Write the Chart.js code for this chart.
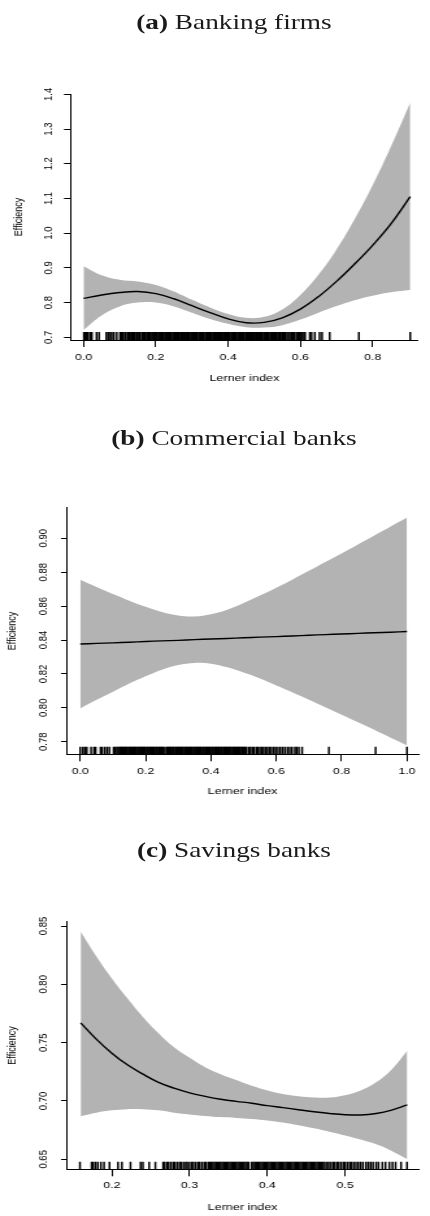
<!DOCTYPE html>
<html><head><meta charset="utf-8">
<script src="https://cdn.jsdelivr.net/npm/chart.js@4.4.1/dist/chart.umd.min.js"></script>
<style>
html,body{margin:0;padding:0;background:#fff;width:430px;height:1216px;overflow:hidden}
#stage{position:absolute;left:0;top:0;width:331px;height:1216px;transform-origin:0 0;transform:scaleX(1.2990937)}
canvas{position:absolute;left:0}
.ttl{position:absolute;left:0;width:360.2px;text-align:center;font-family:"Liberation Serif","Times New Roman",Times,serif;font-size:21px;line-height:21px;color:#1a1a1a;white-space:nowrap}
.ttl b{font-weight:bold}
</style></head><body>
<div id="stage">
<div class="ttl" style="top:12.4px"><b>(a)</b> Banking firms</div>
<canvas id="ca" width="331" height="317" style="top:75px;width:331px;height:317px"></canvas>
<div class="ttl" style="top:428.4px"><b>(b)</b> Commercial banks</div>
<canvas id="cb" width="331" height="318" style="top:488px;width:331px;height:318px"></canvas>
<div class="ttl" style="top:840.4px"><b>(c)</b> Savings banks</div>
<canvas id="cc" width="331" height="314" style="top:902px;width:331px;height:314px"></canvas>
</div>
<script>
// ---------- Panel (a): Banking firms ----------
const xA     = [0, 0.05, 0.1, 0.15, 0.2, 0.25, 0.3, 0.35, 0.4, 0.45, 0.5, 0.55, 0.6, 0.65, 0.7, 0.75, 0.8, 0.85, 0.904];
const fitA   = [0.812, 0.822, 0.829, 0.832, 0.826, 0.811, 0.791, 0.771, 0.753, 0.742, 0.743, 0.756, 0.781, 0.817, 0.861, 0.911, 0.965, 1.026, 1.105];
const upperA = [0.905, 0.879, 0.866, 0.861, 0.851, 0.832, 0.808, 0.786, 0.767, 0.756, 0.759, 0.780, 0.822, 0.880, 0.953, 1.040, 1.138, 1.248, 1.376];
const lowerA = [0.721, 0.763, 0.789, 0.800, 0.800, 0.789, 0.771, 0.753, 0.739, 0.729, 0.728, 0.735, 0.751, 0.771, 0.790, 0.807, 0.820, 0.830, 0.836];
const rugA = [0.001, 0.004, 0.007, 0.012, 0.018, 0.023, 0.036, 0.043, 0.063, 0.068, 0.074, 0.078, 0.084, 0.092, 0.101, 0.105, 0.109, 0.114, 0.117, 0.122, 0.126, 0.129, 0.134, 0.137, 0.141, 0.146, 0.149, 0.153, 0.156, 0.161, 0.164, 0.167,
  0.169, 0.171, 0.175, 0.178, 0.180, 0.184, 0.186, 0.190, 0.193, 0.195, 0.199, 0.202, 0.204, 0.208, 0.211, 0.213, 0.217, 0.220, 0.222, 0.226, 0.229, 0.232, 0.234, 0.238, 0.241, 0.243, 0.247, 0.250, 0.253, 0.255, 0.259, 0.262, 0.264, 0.268, 0.271, 0.273, 0.277, 0.280, 0.283, 0.285, 0.289, 0.292, 0.294, 0.298,
  0.301, 0.303, 0.307, 0.310, 0.313, 0.315, 0.319, 0.322, 0.324, 0.328, 0.331, 0.333, 0.337, 0.340, 0.343, 0.345, 0.349, 0.352, 0.354, 0.358, 0.361, 0.363, 0.367, 0.370, 0.373, 0.375, 0.379, 0.382, 0.384, 0.388, 0.391, 0.393, 0.397, 0.400,
  0.403, 0.405, 0.409, 0.412, 0.414, 0.418, 0.421, 0.423, 0.427, 0.430, 0.433, 0.435, 0.439, 0.442, 0.444, 0.448, 0.451, 0.453, 0.457, 0.460, 0.463, 0.465, 0.469, 0.472, 0.474, 0.478, 0.481, 0.483, 0.487, 0.490, 0.493, 0.495, 0.499,
  0.502, 0.504, 0.508, 0.511, 0.513, 0.517, 0.520, 0.523, 0.525, 0.529, 0.532, 0.535, 0.539, 0.543, 0.546, 0.551, 0.555, 0.558, 0.563, 0.567, 0.571, 0.576, 0.580, 0.584, 0.589, 0.593, 0.597, 0.602, 0.606, 0.610, 0.613,
  0.626, 0.631, 0.640, 0.653, 0.660, 0.681, 0.762, 0.904];
const xTicksA  = [0, 0.2, 0.4, 0.6, 0.8];
const xLabelsA = ['0.0', '0.2', '0.4', '0.6', '0.8'];
const yTicksA  = [0.7, 0.8, 0.9, 1.0, 1.1, 1.2, 1.3, 1.4];
const yLabelsA = ['0.7', '0.8', '0.9', '1.0', '1.1', '1.2', '1.3', '1.4'];

// ---------- Panel (b): Commercial banks ----------
const xB     = [0, 0.05, 0.1, 0.15, 0.2, 0.25, 0.3, 0.35, 0.4, 0.45, 0.5, 0.55, 0.6, 0.65, 0.7, 0.75, 0.8, 0.85, 0.9, 0.95, 1.0];
const fitB   = [0.8376, 0.8380, 0.8383, 0.8387, 0.8391, 0.8395, 0.8398, 0.8402, 0.8406, 0.8409, 0.8413, 0.8417, 0.8420, 0.8424, 0.8428, 0.8432, 0.8435, 0.8439, 0.8443, 0.8446, 0.8450];
const upperB = [0.8756, 0.8713, 0.8671, 0.8632, 0.8596, 0.8565, 0.8544, 0.8539, 0.8552, 0.8579, 0.8618, 0.8662, 0.8708, 0.8757, 0.8808, 0.8860, 0.8911, 0.8964, 0.9017, 0.9069, 0.9122];
const lowerB = [0.7996, 0.8047, 0.8095, 0.8143, 0.8186, 0.8225, 0.8252, 0.8265, 0.8260, 0.8239, 0.8208, 0.8173, 0.8132, 0.8091, 0.8048, 0.8004, 0.7959, 0.7915, 0.7870, 0.7823, 0.7778];
const rugB = [0.000, 0.008, 0.014, 0.020, 0.033, 0.042, 0.047, 0.062, 0.067, 0.075, 0.082, 0.089, 0.102, 0.107, 0.112, 0.116, 0.120, 0.123, 0.127, 0.130, 0.134, 0.137, 0.141, 0.144, 0.148, 0.151, 0.155, 0.158, 0.162, 0.165, 0.169, 0.172, 0.176, 0.179, 0.183, 0.186, 0.190, 0.193, 0.197,
  0.200, 0.204, 0.207, 0.211, 0.214, 0.218, 0.221, 0.225, 0.228, 0.232, 0.235, 0.239, 0.242, 0.246, 0.249, 0.253, 0.256, 0.263, 0.266, 0.270, 0.273, 0.277, 0.280, 0.284, 0.287, 0.291, 0.294, 0.298,
  0.301, 0.305, 0.308, 0.312, 0.315, 0.319, 0.322, 0.326, 0.329, 0.333, 0.336, 0.340, 0.343, 0.347, 0.350, 0.354, 0.357, 0.361, 0.364, 0.368, 0.371, 0.375, 0.378, 0.382, 0.385, 0.389, 0.392, 0.396, 0.399,
  0.403, 0.406, 0.410, 0.413, 0.417, 0.420, 0.424, 0.427, 0.431, 0.434, 0.438, 0.441, 0.445, 0.448, 0.452, 0.455, 0.459, 0.462, 0.466, 0.469, 0.473, 0.476, 0.480, 0.483, 0.487, 0.490, 0.494, 0.497,
  0.501, 0.505, 0.509, 0.516, 0.521, 0.527, 0.532, 0.539, 0.544, 0.550, 0.556, 0.561, 0.567, 0.573, 0.579, 0.585, 0.592, 0.598, 0.605, 0.612, 0.619, 0.626, 0.634, 0.641, 0.648, 0.657, 0.662, 0.669,
  0.679, 0.761, 0.904, 1.000];
const xTicksB  = [0, 0.2, 0.4, 0.6, 0.8, 1.0];
const xLabelsB = ['0.0', '0.2', '0.4', '0.6', '0.8', '1.0'];
const yTicksB  = [0.78, 0.80, 0.82, 0.84, 0.86, 0.88, 0.90];
const yLabelsB = ['0.78', '0.80', '0.82', '0.84', '0.86', '0.88', '0.90'];

// ---------- Panel (c): Savings banks ----------
const xC     = [0.16, 0.18, 0.20, 0.22, 0.24, 0.26, 0.28, 0.30, 0.32, 0.34, 0.36, 0.38, 0.40, 0.42, 0.44, 0.46, 0.48, 0.50, 0.52, 0.54, 0.56, 0.58];
const fitC   = [0.767, 0.753, 0.741, 0.731, 0.723, 0.716, 0.711, 0.707, 0.704, 0.7015, 0.6997, 0.698, 0.696, 0.6943, 0.6925, 0.6908, 0.6893, 0.6882, 0.6880, 0.6893, 0.6922, 0.6966];
const upperC = [0.845, 0.824, 0.805, 0.788, 0.772, 0.758, 0.746, 0.737, 0.729, 0.723, 0.718, 0.713, 0.709, 0.706, 0.704, 0.703, 0.703, 0.705, 0.709, 0.716, 0.727, 0.743];
const lowerC = [0.687, 0.690, 0.692, 0.693, 0.693, 0.692, 0.690, 0.6885, 0.6872, 0.6862, 0.6855, 0.6846, 0.6833, 0.6815, 0.6792, 0.6766, 0.6737, 0.6705, 0.6669, 0.6629, 0.6572, 0.650];
const rugC = [0.159, 0.174, 0.176, 0.179, 0.182, 0.186, 0.190, 0.197, 0.208, 0.213, 0.224, 0.237, 0.240, 0.248, 0.256,
  0.266, 0.268, 0.271, 0.273, 0.276, 0.279, 0.281, 0.284, 0.287, 0.289, 0.292, 0.295, 0.297, 0.300, 0.303, 0.305, 0.308, 0.311, 0.313, 0.316, 0.319, 0.321, 0.324,
  0.326, 0.328, 0.330, 0.332, 0.334, 0.336, 0.338, 0.340, 0.342, 0.344, 0.346, 0.348, 0.350, 0.352, 0.354, 0.356, 0.358, 0.360, 0.362, 0.364, 0.366, 0.368, 0.370, 0.372, 0.374, 0.376,
  0.380, 0.382, 0.384, 0.386, 0.388, 0.390, 0.392, 0.394, 0.396, 0.398, 0.400, 0.402, 0.404, 0.406, 0.408, 0.410, 0.412, 0.414, 0.416, 0.418, 0.420, 0.422, 0.424, 0.426, 0.428,
  0.430, 0.432, 0.434, 0.436, 0.438, 0.440, 0.442, 0.444, 0.446, 0.448, 0.450, 0.452, 0.454, 0.456, 0.458, 0.460, 0.462, 0.464, 0.466, 0.468, 0.470, 0.472, 0.474,
  0.477, 0.479, 0.482, 0.485, 0.487, 0.490, 0.492, 0.495, 0.498, 0.500, 0.503, 0.506, 0.508, 0.511, 0.514, 0.517, 0.520, 0.523, 0.527, 0.530, 0.533, 0.536,
  0.540, 0.543, 0.548, 0.552, 0.557, 0.561, 0.565, 0.572, 0.5797];
const xTicksC  = [0.2, 0.3, 0.4, 0.5];
const xLabelsC = ['0.2', '0.3', '0.4', '0.5'];
const yTicksC  = [0.65, 0.70, 0.75, 0.80, 0.85];
const yLabelsC = ['0.65', '0.70', '0.75', '0.80', '0.85'];

// ---------- layout (the picture is stretched horizontally) ----------
const S = 430 / 331;
const SANS = '"Liberation Sans", Arial, Helvetica, sans-serif';
const Y_FONT = 9.5, YT_FONT = 9, X_FONT = 9.5, XT_FONT = 9.7;

function textW(list, size) {
  const c = document.createElement('canvas').getContext('2d');
  c.font = size + 'px ' + SANS;
  return Math.max(...list.map(t => c.measureText(t).width));
}

function makePanel(id, d, g) {
  const pts = (xs, ys) => xs.map((x, i) => ({x: x, y: ys[i]}));
  const widest = textW(d.yLabels, Y_FONT);
  const yPad = g.yW - g.yTL - g.yLabelC - widest / 2;
  const yTitlePT = g.yTitleC - YT_FONT * 1.2 / 2;
  const curve = {tension: 0.4, cubicInterpolationMode: 'default', pointRadius: 0};
  return new Chart(document.getElementById(id), {
    type: 'line',
    data: {datasets: [
      Object.assign({label: 'fit', data: pts(d.x, d.fit), borderColor: '#000', borderWidth: 1.4, fill: false}, curve),
      {label: 'rug', data: d.rug.map(v => ({x: v, y: g.yMin})), showLine: false, pointStyle: 'line',
       pointRotation: 90, pointRadius: g.rugR, pointBorderWidth: 1.5, pointBorderColor: '#000',
       pointBackgroundColor: '#000', clip: 0},
      Object.assign({label: 'upper', data: pts(d.x, d.upper), borderColor: 'rgba(0,0,0,0)', borderWidth: 0,
       fill: {target: '+1'}, backgroundColor: '#b3b3b3'}, curve),
      Object.assign({label: 'lower', data: pts(d.x, d.lower), borderColor: 'rgba(0,0,0,0)', borderWidth: 0,
       fill: false}, curve)
    ]},
    options: {
      responsive: false, animation: false, devicePixelRatio: 1, events: [],
      layout: {padding: {top: g.padTop, left: 0, right: 0, bottom: 0}},
      plugins: {legend: {display: false}, tooltip: {enabled: false}, title: {display: false}},
      scales: {
        x: {
          type: 'linear', position: 'bottom', min: g.xMin, max: g.xMax,
          afterBuildTicks: s => { s.ticks = d.xTicks.map(v => ({value: v})); },
          afterFit: s => { s.height = g.xH; s.paddingLeft = 0; s.paddingRight = 0; },
          grid: {display: true, drawOnChartArea: false, drawTicks: true, tickLength: 7, color: '#000', lineWidth: 1},
          border: {display: true, color: '#000', width: 1},
          ticks: {autoSkip: false, minRotation: 0, maxRotation: 0, padding: g.xTickPad, color: '#000',
                  font: {family: SANS, size: X_FONT}, callback: (v, i) => d.xLabels[i]},
          title: {display: true, text: 'Lerner index', color: '#000', font: {family: SANS, size: XT_FONT},
                  padding: {top: 0, bottom: g.xTitlePB}}
        },
        y: {
          type: 'linear', position: 'left', min: g.yMin, max: g.yMax,
          afterBuildTicks: s => { s.ticks = d.yTicks.map(v => ({value: v})); },
          afterFit: s => { s.width = g.yW; s.paddingTop = 0; s.paddingBottom = 0; },
          grid: {display: true, drawOnChartArea: false, drawTicks: true, tickLength: g.yTL, color: '#000', lineWidth: 1},
          border: {display: true, color: '#000', width: 1},
          ticks: {autoSkip: false, minRotation: 90, maxRotation: 90, crossAlign: 'center', padding: yPad, color: '#000',
                  font: {family: SANS, size: Y_FONT}, callback: (v, i) => d.yLabels[i]},
          title: {display: true, text: 'Efficiency', color: '#000', font: {family: SANS, size: YT_FONT},
                  padding: {top: yTitlePT, bottom: 0}}
        }
      }
    }
  });
}

makePanel('ca',
  {x: xA, fit: fitA, upper: upperA, lower: lowerA, rug: rugA, xTicks: xTicksA, xLabels: xLabelsA, yTicks: yTicksA, yLabels: yLabelsA},
  {padTop: 19, xH: 52, yW: 71 / S, yTL: 7 / S, yLabelC: 49.2 / S, yTitleC: 18.7 / S,
   xMin: -0.0347, xMax: 0.9246, yMin: 0.6922, yMax: 1.4009, xTickPad: 4.6, xTitlePB: 8.2, rugR: 8});

makePanel('cb',
  {x: xB, fit: fitB, upper: upperB, lower: lowerB, rug: rugB, xTicks: xTicksB, xLabels: xLabelsB, yTicks: yTicksB, yLabels: yLabelsB},
  {padTop: 19.7, xH: 51.7, yW: 67 / S, yTL: 6 / S, yLabelC: 43.2 / S, yTitleC: 13 / S,
   xMin: -0.0406, xMax: 1.0347, yMin: 0.77257, yMax: 0.91805, xTickPad: 4.7, xTitlePB: 8.5, rugR: 7.5});

makePanel('cc',
  {x: xC, fit: fitC, upper: upperC, lower: lowerC, rug: rugC, xTicks: xTicksC, xLabels: xLabelsC, yTicks: yTicksC, yLabels: yLabelsC},
  {padTop: 19.7, xH: 46.7, yW: 67 / S, yTL: 6 / S, yLabelC: 43.2 / S, yTitleC: 13 / S,
   xMin: 0.14236, xMax: 0.59424, yMin: 0.64143, yMax: 0.85369, xTickPad: 3.2, xTitlePB: 2.9, rugR: 7.5});
</script>
</body></html>
